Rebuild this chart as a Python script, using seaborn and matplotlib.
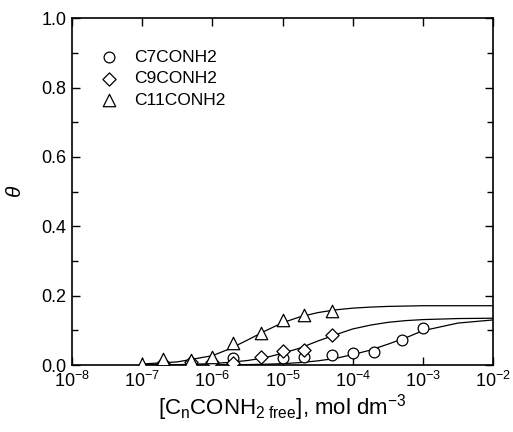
import numpy as np
import pandas as pd
import matplotlib
matplotlib.use("Agg")
import matplotlib.pyplot as plt
import seaborn as sns
from matplotlib.ticker import MultipleLocator, LogLocator, NullLocator

# measured points
c7_x = [2e-6, 1e-5, 2e-5, 5e-5, 1e-4, 2e-4, 5e-4, 1e-3]
c7_y = [0.019, 0.019, 0.022, 0.029, 0.035, 0.038, 0.072, 0.106]
c9_x = [2e-7, 5e-7, 1e-6, 2e-6, 5e-6, 1e-5, 2e-5, 5e-5]
c9_y = [0.005, 0.010, 0.010, 0.005, 0.024, 0.041, 0.043, 0.086]
c11_x = [1e-7, 2e-7, 5e-7, 1e-6, 2e-6, 5e-6, 1e-5, 2e-5, 5e-5]
c11_y = [0.002, 0.016, 0.015, 0.024, 0.064, 0.093, 0.129, 0.145, 0.156]

# fitted curves
curve_logx = [-7, -6.5, -6, -5.75, -5.5, -5.25, -5, -4.75, -4.5, -4.25,
              -4, -3.75, -3.5, -3.25, -3, -2.5, -2]
c7_fit = [0.0, 0.0, 0.0004, 0.0007, 0.0013, 0.0023, 0.004, 0.007, 0.012, 0.019,
          0.030, 0.043, 0.060, 0.078, 0.099, 0.121, 0.130]
c9_fit = [0.0, 0.001, 0.004, 0.008, 0.013, 0.021, 0.034, 0.049, 0.069, 0.087,
          0.104, 0.115, 0.123, 0.128, 0.131, 0.134, 0.135]
c11_fit = [0.003, 0.009, 0.027, 0.047, 0.072, 0.098, 0.122, 0.139, 0.151, 0.159,
           0.164, 0.167, 0.169, 0.170, 0.171, 0.171, 0.171]

names = ["C7CONH2", "C9CONH2", "C11CONH2"]
markers = ["o", "D", "^"]
sizes = [60, 45, 80]

sns.set_style("ticks")
plt.rcParams["font.family"] = ["Liberation Sans", "DejaVu Sans"]
plt.rcParams["mathtext.fontset"] = "custom"
plt.rcParams["mathtext.rm"] = "Liberation Sans"
plt.rcParams["mathtext.it"] = "Liberation Sans:italic"
plt.rcParams["text.color"] = "black"
plt.rcParams["axes.labelcolor"] = "black"

fig = plt.figure(figsize=(5.13, 4.32), dpi=100)
ax = fig.add_axes([0.1404, 0.155, 0.8207, 0.803])

curve_x = 10.0 ** np.array(curve_logx)
for fit in [c7_fit, c9_fit, c11_fit]:
    sns.lineplot(x=curve_x, y=fit, ax=ax, color="black", lw=0.9, sort=False)

for xs, ys, nm, mk, sz in zip([c7_x, c9_x, c11_x], [c7_y, c9_y, c11_y], names, markers, sizes):
    sns.scatterplot(x=xs, y=ys, ax=ax, marker=mk, s=sz, facecolor="white",
                    edgecolor="black", linewidth=0.9, label=nm, zorder=3)

ax.set_xscale("log")
ax.set_xlim(1e-8, 1e-2)
ax.set_ylim(0, 1.0)
ax.xaxis.set_major_locator(LogLocator(base=10, numticks=10))
ax.xaxis.set_minor_locator(NullLocator())
ax.yaxis.set_major_locator(MultipleLocator(0.2))
ax.yaxis.set_minor_locator(MultipleLocator(0.1))
ax.yaxis.set_major_formatter(plt.FormatStrFormatter("%.1f"))
ax.tick_params(which="both", direction="in", top=True, right=True, labelsize=13,
               width=1, colors="black")
ax.tick_params(which="major", length=6, pad=4)
ax.tick_params(which="minor", length=4)
for sp in ax.spines.values():
    sp.set_linewidth(1.2)
    sp.set_color("black")

ax.set_xlabel(r"[C$_\mathregular{n}$CONH$_\mathregular{2\ free}$], mol dm$^\mathregular{-3}$",
              fontsize=16, labelpad=1)
ax.set_ylabel(r"$\theta$", fontsize=15, labelpad=12)

ax.legend(loc="upper left", bbox_to_anchor=(0.03, 0.93), frameon=False, fontsize=12.5,
          handletextpad=0.45, labelspacing=0.38, borderaxespad=0)

fig.savefig("out.png", dpi=100)
